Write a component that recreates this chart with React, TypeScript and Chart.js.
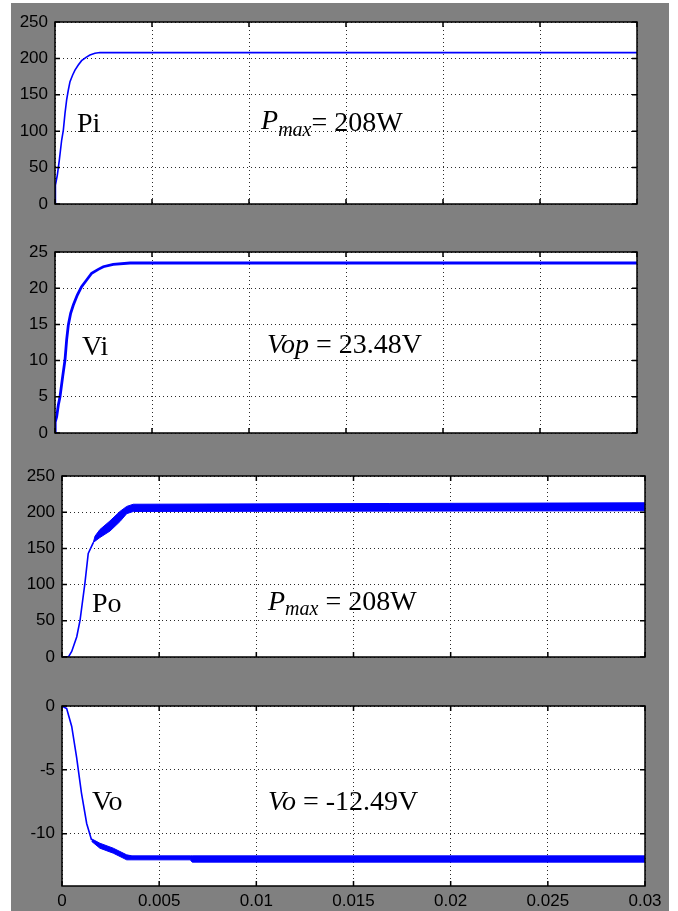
import React, { useEffect, useRef } from 'react';
import { Chart, registerables } from 'chart.js';

Chart.register(...registerables);
if (typeof document !== 'undefined') document.body.style.margin = '0';

// ---------- data ----------
const xTickValues = [0, 0.005, 0.01, 0.015, 0.02, 0.025, 0.03];
const xTickLabels = ['0', '0.005', '0.01', '0.015', '0.02', '0.025', '0.03'];

const powerTicks = [0, 50, 100, 150, 200, 250];
const powerTickLabels = ['0', '50', '100', '150', '200', '250'];
const viTicks = [0, 5, 10, 15, 20, 25];
const viTickLabels = ['0', '5', '10', '15', '20', '25'];
const voTicks = [-10, -5, 0];
const voTickLabels = ['-10', '-5', '0'];

// Panel 1: PV input power Pi (W)
const piTime = [0, 0.00001, 0.000034, 0.00012, 0.000223, 0.000344, 0.00043, 0.000515, 0.0006, 0.000687, 0.000773, 0.00091, 0.00103, 0.0012, 0.00137, 0.0016, 0.0018, 0.00206, 0.00232, 0.03];
const piValues = [0, 20, 26.1, 39.8, 60.4, 87.9, 101.6, 124.5, 142.9, 156.6, 168, 177.2, 184, 191, 196.9, 201.5, 204.7, 207, 208, 208];

// Panel 2: PV input voltage Vi (V)
const viTime = [0, 0.00001, 0.000086, 0.000172, 0.000258, 0.000395, 0.000515, 0.0006, 0.000687, 0.000807, 0.000945, 0.00115, 0.00137, 0.00163, 0.00189, 0.00223, 0.00249, 0.003, 0.00387, 0.03];
const viValues = [0, 1.5, 2.25, 3.87, 5.02, 7.78, 10.08, 12.85, 14.92, 16.53, 17.68, 19.06, 20.21, 21.13, 22.06, 22.6, 22.97, 23.3, 23.48, 23.48];

// Panel 3: output power Po (W) - transient then ripple band
const poTime = [0, 0.00034, 0.0005, 0.00076, 0.00093, 0.00118, 0.00135, 0.00161];
const poValues = [0, 0.5, 7.7, 28, 51, 102, 143, 158];
const poBandTime = [0.00161, 0.0017, 0.00195, 0.00247, 0.00298, 0.00333, 0.00367, 0.03];
const poBandLow = [158, 160, 165, 174, 187, 198, 201, 202];
const poBandHigh = [158, 167, 176, 188, 201, 208, 211, 213];

// Panel 4: output voltage Vo (V) - transient then ripple band
const voTime = [0, 0.00024, 0.0005, 0.00075, 0.001, 0.00127, 0.00152];
const voValues = [0, -0.2, -1.6, -4.0, -6.8, -9.2, -10.5];
const voBandTime = [0.00152, 0.00195, 0.00264, 0.00333, 0.0036, 0.0066, 0.0067, 0.03];
const voBandHigh = [-10.4, -10.75, -11.14, -11.66, -11.74, -11.74, -11.74, -11.74];
const voBandLow = [-10.6, -11.14, -11.53, -12.05, -12.05, -12.05, -12.23, -12.23];

// ---------- styles ----------
const BLUE = '#0000ff';
const TICK_FONT = "'Liberation Sans', Arial, sans-serif";
const NOTE_FONT = "'Liberation Serif', 'Times New Roman', serif";
const NOTE_SIZE = 28;
const SUB_SIZE = 20;
const W = 678;

type Part = { text: string; italic?: boolean; sub?: boolean; dy?: number };
type Note = { x: number; y: number; parts: Part[] };

type Spec = {
  id: string;
  canvasTop: number;
  canvasH: number;
  area: { left: number; right: number; top: number; bottom: number };
  showX: boolean;
  yMin: number;
  yMax: number;
  yTicks: number[];
  yLabels: string[];
  time: number[];
  values: number[];
  lineWidth: number;
  bandTime?: number[];
  bandLow?: number[];
  bandHigh?: number[];
  notes: Note[];
};

const panels: Spec[] = [
  {
    id: 'pi', canvasTop: 0, canvasH: 228,
    area: { left: 55, right: 637, top: 22, bottom: 204 }, showX: false,
    yMin: 0, yMax: 250, yTicks: powerTicks, yLabels: powerTickLabels,
    time: piTime, values: piValues, lineWidth: 1.6,
    notes: [
      { x: 0.00113, y: 99, parts: [{ text: 'Pi' }] },
      { x: 0.01062, y: 100, parts: [{ text: 'P', italic: true, dy: -2 }, { text: 'max', italic: true, sub: true }, { text: '= 208W' }] },
    ],
  },
  {
    id: 'vi', canvasTop: 228, canvasH: 226,
    area: { left: 55, right: 637, top: 252, bottom: 433 }, showX: false,
    yMin: 0, yMax: 25, yTicks: viTicks, yLabels: viTickLabels,
    time: viTime, values: viValues, lineWidth: 2.8,
    notes: [
      { x: 0.00139, y: 10.8, parts: [{ text: 'Vi' }] },
      { x: 0.01093, y: 11.0, parts: [{ text: 'Vop', italic: true }, { text: ' = 23.48V' }] },
    ],
  },
  {
    id: 'po', canvasTop: 454, canvasH: 226,
    area: { left: 62, right: 645, top: 476, bottom: 657 }, showX: false,
    yMin: 0, yMax: 250, yTicks: powerTicks, yLabels: powerTickLabels,
    time: poTime, values: poValues, lineWidth: 1.6,
    bandTime: poBandTime, bandLow: poBandLow, bandHigh: poBandHigh,
    notes: [
      { x: 0.00154, y: 62.2, parts: [{ text: 'Po' }] },
      { x: 0.0106, y: 65, parts: [{ text: 'P', italic: true }, { text: 'max', italic: true, sub: true }, { text: ' = 208W' }] },
    ],
  },
  {
    id: 'vo', canvasTop: 680, canvasH: 231,
    area: { left: 62, right: 645, top: 706, bottom: 886 }, showX: true,
    yMin: -14.1, yMax: 0, yTicks: voTicks, yLabels: voTickLabels,
    time: voTime, values: voValues, lineWidth: 1.6,
    bandTime: voBandTime, bandLow: voBandLow, bandHigh: voBandHigh,
    notes: [
      { x: 0.00154, y: -8.14, parts: [{ text: 'Vo' }] },
      { x: 0.0106, y: -8.14, parts: [{ text: 'Vo', italic: true }, { text: ' = -12.49V' }] },
    ],
  },
];

function zip(xs: number[], ys: number[]) {
  return xs.map((x, i) => ({ x, y: ys[i] }));
}

function framePlugin() {
  return {
    id: 'scopeFrame',
    beforeDraw(chart: any) {
      const { ctx, chartArea: a } = chart;
      ctx.save();
      ctx.fillStyle = '#ffffff';
      ctx.fillRect(a.left, a.top, a.right - a.left, a.bottom - a.top);
      ctx.restore();
    },
    afterDatasetsDraw(chart: any) {
      const { ctx, chartArea: a, scales } = chart;
      const xs = scales.x;
      const ys = scales.y;
      const L = 5;
      ctx.save();
      ctx.strokeStyle = '#000000';
      ctx.lineWidth = 1.5;
      ctx.beginPath();
      xs.ticks.forEach((t: any) => {
        const px = xs.getPixelForValue(t.value);
        ctx.moveTo(px, a.bottom);
        ctx.lineTo(px, a.bottom - L);
        ctx.moveTo(px, a.top);
        ctx.lineTo(px, a.top + L);
      });
      ys.ticks.forEach((t: any) => {
        const py = ys.getPixelForValue(t.value);
        ctx.moveTo(a.left, py);
        ctx.lineTo(a.left + L, py);
        ctx.moveTo(a.right, py);
        ctx.lineTo(a.right - L, py);
      });
      ctx.stroke();
      ctx.strokeRect(a.left, a.top, a.right - a.left, a.bottom - a.top);
      ctx.restore();
    },
  };
}

function notePlugin(notes: Note[]) {
  return {
    id: 'scopeNotes',
    afterDatasetsDraw(chart: any) {
      const { ctx, scales } = chart;
      ctx.save();
      ctx.fillStyle = '#000000';
      ctx.textAlign = 'left';
      ctx.textBaseline = 'alphabetic';
      notes.forEach((n) => {
        let px = scales.x.getPixelForValue(n.x);
        const py = scales.y.getPixelForValue(n.y);
        n.parts.forEach((p) => {
          const size = p.sub ? SUB_SIZE : NOTE_SIZE;
          ctx.font = `${p.italic ? 'italic ' : ''}${size}px ${NOTE_FONT}`;
          const dy = (p.sub ? 5 : 0) + (p.dy || 0);
          ctx.fillText(p.text, px, py + dy);
          px += ctx.measureText(p.text).width;
        });
      });
      ctx.restore();
    },
  };
}

function buildConfig(s: Spec): any {
  const datasets: any[] = [
    { data: zip(s.time, s.values), borderColor: BLUE, borderWidth: s.lineWidth, pointRadius: 0, fill: false, tension: 0 },
  ];
  if (s.bandTime && s.bandLow && s.bandHigh) {
    datasets.push({ data: zip(s.bandTime, s.bandLow), borderColor: BLUE, borderWidth: 1, pointRadius: 0, fill: false, tension: 0 });
    datasets.push({ data: zip(s.bandTime, s.bandHigh), borderColor: BLUE, borderWidth: 1, pointRadius: 0, fill: '-1', backgroundColor: BLUE, tension: 0 });
  }
  const xAxisH = s.showX ? 25 : 12;
  const padTop = s.area.top - s.canvasTop;
  const padRight = W - s.area.right;
  const padBottom = s.canvasH - (s.area.bottom - s.canvasTop) - xAxisH;
  const gridStyle = { color: '#2a2a2a', lineWidth: 1, drawTicks: false };
  const borderStyle = { display: false, dash: [1, 3] };
  return {
    type: 'line',
    data: { datasets },
    options: {
      animation: false,
      responsive: false,
      devicePixelRatio: 1,
      events: [],
      layout: { padding: { top: padTop, right: padRight, bottom: padBottom, left: 0 } },
      plugins: { legend: { display: false }, tooltip: { enabled: false }, title: { display: false } },
      scales: {
        x: {
          type: 'linear',
          min: 0,
          max: 0.03,
          afterBuildTicks: (sc: any) => { sc.ticks = xTickValues.map((v) => ({ value: v })); },
          afterFit: (sc: any) => { sc.height = xAxisH; },
          grid: gridStyle,
          border: borderStyle,
          ticks: {
            display: s.showX,
            padding: 5,
            color: '#000000',
            maxRotation: 0,
            font: { size: 17, family: TICK_FONT },
            callback: (_v: any, i: number) => xTickLabels[i],
          },
        },
        y: {
          type: 'linear',
          min: s.yMin,
          max: s.yMax,
          afterBuildTicks: (sc: any) => { sc.ticks = s.yTicks.map((v) => ({ value: v })); },
          afterFit: (sc: any) => { sc.width = s.area.left; },
          grid: gridStyle,
          border: borderStyle,
          ticks: {
            padding: 7,
            color: '#000000',
            font: { size: 17, family: TICK_FONT },
            callback: (_v: any, i: number) => s.yLabels[i],
          },
        },
      },
    },
    plugins: [framePlugin(), notePlugin(s.notes)],
  };
}

function Panel({ spec }: { spec: Spec }) {
  const ref = useRef<HTMLCanvasElement>(null);
  useEffect(() => {
    if (!ref.current) return;
    const chart = new Chart(ref.current, buildConfig(spec));
    return () => chart.destroy();
  }, [spec]);
  return (
    <canvas
      ref={ref}
      width={W}
      height={spec.canvasH}
      style={{ position: 'absolute', left: 0, top: spec.canvasTop, width: W, height: spec.canvasH, display: 'block' }}
    />
  );
}

export default function App() {
  return (
    <div style={{ position: 'relative', width: W, height: 911, background: '#ffffff', overflow: 'hidden' }}>
      <div style={{ position: 'absolute', left: 11, top: 3, width: 658, height: 908, background: '#808080' }} />
      {panels.map((p) => (
        <Panel key={p.id} spec={p} />
      ))}
    </div>
  );
}
